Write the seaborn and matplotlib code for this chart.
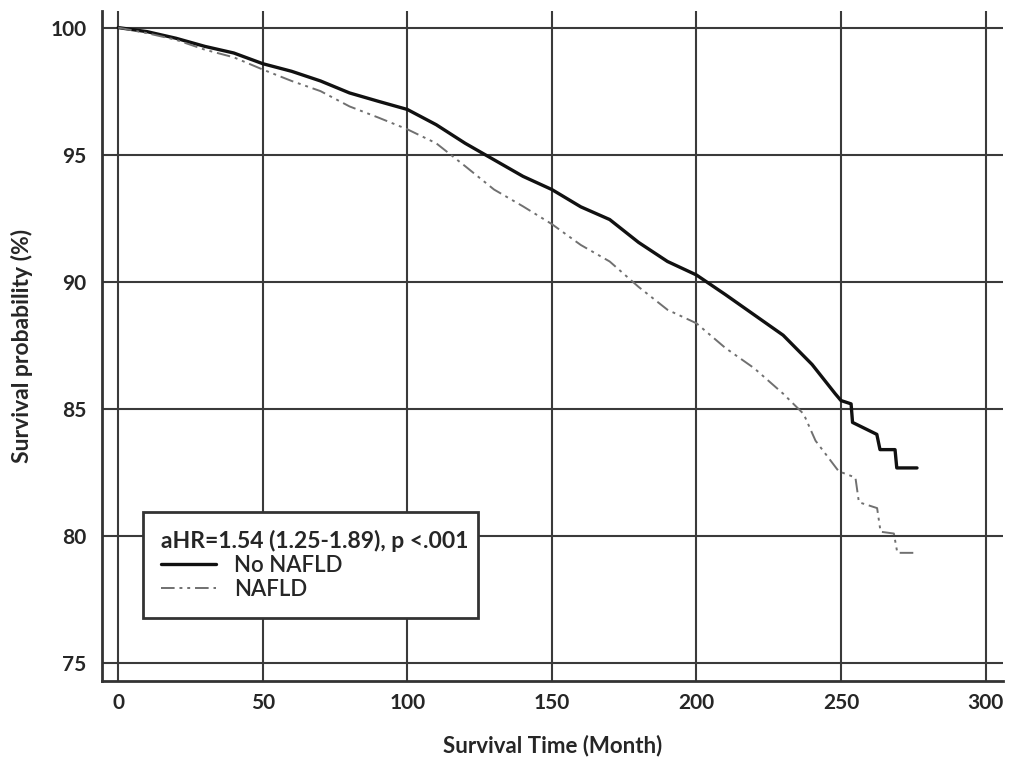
import pandas as pd
import seaborn as sns
import matplotlib.pyplot as plt
from matplotlib.lines import Line2D

# Kaplan-Meier curves (months, survival %)
months_no_nafld = [0, 10, 20, 30, 40, 50, 60, 70, 80, 90, 100, 110, 120, 130,
                   140, 150, 160, 170, 180, 190, 200, 210, 220, 230, 240,
                   248, 250, 253.5, 254, 262.4, 263.5, 268.7, 269.3, 276.3]
surv_no_nafld = [100, 99.84, 99.58, 99.26, 99.0, 98.58, 98.28, 97.9, 97.43,
                 97.1, 96.78, 96.18, 95.45, 94.8, 94.15, 93.63, 92.95, 92.45,
                 91.55, 90.8, 90.27, 89.5, 88.7, 87.9, 86.75,
                 85.6, 85.33, 85.2, 84.47, 84.0, 83.4, 83.4, 82.68, 82.68]

months_nafld = [0, 10, 20, 30, 40, 50, 60, 70, 80, 90, 100, 110, 120, 130,
                140, 150, 160, 170, 180, 190, 200, 210, 220, 230,
                237.1, 241.2, 249.2, 255, 256.2, 262.5, 263.7, 268.3, 269.5, 276.3]
surv_nafld = [100, 99.78, 99.52, 99.13, 98.83, 98.35, 97.9, 97.5, 96.9,
              96.46, 96.0, 95.45, 94.55, 93.63, 92.97, 92.27, 91.45, 90.8,
              89.8, 88.9, 88.37, 87.4, 86.6, 85.6,
              84.8, 83.75, 82.55, 82.3, 81.33, 81.1, 80.17, 80.1, 79.34, 79.34]

x_ticks = [0, 50, 100, 150, 200, 250, 300]
y_ticks = [75, 80, 85, 90, 95, 100]
legend_title = 'aHR=1.54 (1.25-1.89), p <.001'
group_labels = ['No NAFLD', 'NAFLD']

sns.set_style('white')
plt.rcParams['font.family'] = ['Lato', 'DejaVu Sans']

fig = plt.figure(figsize=(10.13, 7.63), dpi=100)
ax = fig.add_axes([0.1007, 0.1075, 0.8893, 0.878])

grid_kw = dict(color='#3a3a3a', linewidth=1.5, zorder=1)
for xt in x_ticks:
    ax.axvline(xt, **grid_kw)
for yt in y_ticks:
    ax.axhline(yt, **grid_kw)

sns.lineplot(x=months_no_nafld, y=surv_no_nafld, ax=ax, estimator=None,
             sort=False, color='#111111', linewidth=2.4, zorder=3)
sns.lineplot(x=months_nafld, y=surv_nafld, ax=ax, estimator=None,
             sort=False, color='#707070', linewidth=1.4, zorder=3,
             dashes=False)
ax.lines[-1].set_dashes([7, 2.5, 1.5, 2.5, 1.5, 2.5])

ax.set_xlim(-5.6, 306)
ax.set_ylim(74.3, 100.65)
ax.set_xticks(x_ticks)
ax.set_yticks(y_ticks)
ax.tick_params(axis='both', length=0, labelsize=15)
ax.tick_params(axis='y', pad=11)
ax.tick_params(axis='x', pad=9)
for lab in ax.get_xticklabels() + ax.get_yticklabels():
    lab.set_fontweight('bold')

for side in ['top', 'right']:
    ax.spines[side].set_visible(False)
for side in ['left', 'bottom']:
    ax.spines[side].set_color('#333333')
    ax.spines[side].set_linewidth(2)

ax.set_xlabel('Survival Time (Month)', fontsize=16, fontweight='bold', labelpad=15)
ax.set_ylabel('Survival probability (%)', fontsize=16.5, fontweight='bold', labelpad=13)

handles = [Line2D([0], [0], color='#111111', linewidth=2.4),
           Line2D([0], [0], color='#707070', linewidth=1.4,
                  dashes=[7, 2.5, 1.5, 2.5, 1.5, 2.5])]
leg = ax.legend(handles, group_labels, title=legend_title,
                loc='lower left', bbox_to_anchor=(0.0455, 0.094, 0.372, 0.16),
                mode='expand', borderaxespad=0, frameon=True, fancybox=False,
                handlelength=2.5, handletextpad=0.8, fontsize=16,
                alignment='left',
                title_fontproperties={'weight': 'bold', 'size': 16.5},
                labelspacing=0.15, borderpad=0.8)
leg.get_frame().set_edgecolor('#333333')
leg.get_frame().set_linewidth(2)
leg.get_frame().set_alpha(1)
leg.set_zorder(5)
for t in leg.get_texts():
    t.set_fontweight('semibold')

fig.savefig('out.png', dpi=100)
